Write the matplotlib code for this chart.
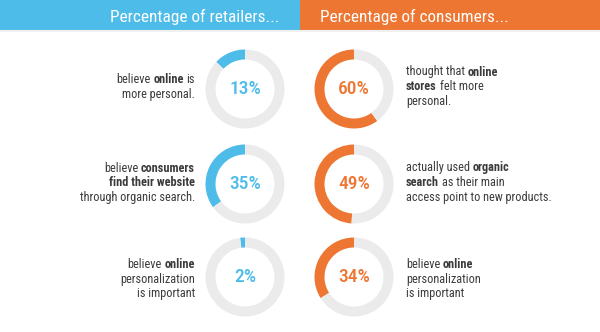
import matplotlib
matplotlib.use("Agg")
import matplotlib.pyplot as plt
from matplotlib import font_manager as fm

retailers = [13, 35, 2]
consumers = [60, 49, 34]
headers = ["Percentage of retailers...", "Percentage of consumers..."]

# "**" marks the bold words
retailer_notes = [
    ["believe **online** is", "more personal."],
    ["believe **consumers**", "**find their website**", "through organic search."],
    ["believe **online**", "personalization", "is important"],
]
consumer_notes = [
    ["thought that **online**", "**stores** felt more", "personal."],
    ["actually used **organic**", "**search** as their main", "access point to new products."],
    ["believe **online**", "personalization", "is important"],
]

BLUE = "#4dbce9"
ORANGE = "#ee7633"
RING = "#ebebeb"
INK = "#3b3b3b"

names = {f.name for f in fm.fontManager.ttflist}
FONT = "Roboto Condensed" if "Roboto Condensed" in names else "Roboto"
NOTE_SIZE = 8.8

W, H = 600, 332
fig = plt.figure(figsize=(W / 100, H / 100), dpi=100)
ax = fig.add_axes([0, 0, 1, 1])
ax.set_xlim(0, W)
ax.set_ylim(0, H)
ax.axis("off")

# header band
ax.barh(H - 15, 300, height=30, left=0, color=BLUE)
ax.barh(H - 15, 300, height=30, left=300, color=ORANGE)
ax.plot([0, W], [H - 31, H - 31], color="#f0f0f0", lw=1.5)
ax.text(279, H - 22, headers[0], ha="right", va="baseline", color="white",
        fontsize=12.4, family=FONT)
ax.text(320, H - 22, headers[1], ha="left", va="baseline", color="white",
        fontsize=12.4, family=FONT)

renderer = fig.canvas.get_renderer()


def _w(s, weight):
    t = ax.text(0, 0, s, fontsize=NOTE_SIZE, family=FONT, weight=weight)
    w = t.get_window_extent(renderer).width
    t.remove()
    return w


SPACE = _w("n n", "normal") - _w("nn", "normal")


def rich_line(x, y, line, align):
    parts = line.split("**")
    segs = [(p, "bold" if i % 2 else "normal") for i, p in enumerate(parts) if p]
    cur = 0.0
    made = []
    for s, w in segs:
        if s.startswith(" "):
            cur += SPACE
        t = ax.text(cur, y, s.strip(), fontsize=NOTE_SIZE, family=FONT, weight=w,
                    color=INK, ha="left", va="center")
        bb = t.get_window_extent(renderer)
        made.append((t, cur))
        cur += bb.width
        if s.endswith(" "):
            cur += SPACE
    shift = x - cur if align == "right" else x
    for t, px in made:
        t.set_x(px + shift)


row_y = [89, 184, 277]
text_y = [87, 183, 279]
for i in range(3):
    cy = H - row_y[i]
    for cx, val, col in ((245, retailers[i], BLUE), (354, consumers[i], ORANGE)):
        ax.pie([val, 100 - val], colors=[col, RING], startangle=90, counterclock=True,
               radius=39.5, center=(cx, cy), frame=True,
               wedgeprops=dict(width=10, edgecolor="none"))
        ax.text(cx, cy, f"{val}%", ha="center", va="center", color=col,
                fontsize=14, family=FONT, weight="medium")

    for notes, x, align in ((retailer_notes[i], 195, "right"), (consumer_notes[i], 406, "left")):
        n = len(notes)
        for k, line in enumerate(notes):
            ly = H - (text_y[i] + (k - (n - 1) / 2) * 15)
            rich_line(x, ly, line, align)

ax.set_xlim(0, W)
ax.set_ylim(0, H)
ax.set_aspect("auto")
ax.axis("off")
fig.savefig("out.png", dpi=100)
